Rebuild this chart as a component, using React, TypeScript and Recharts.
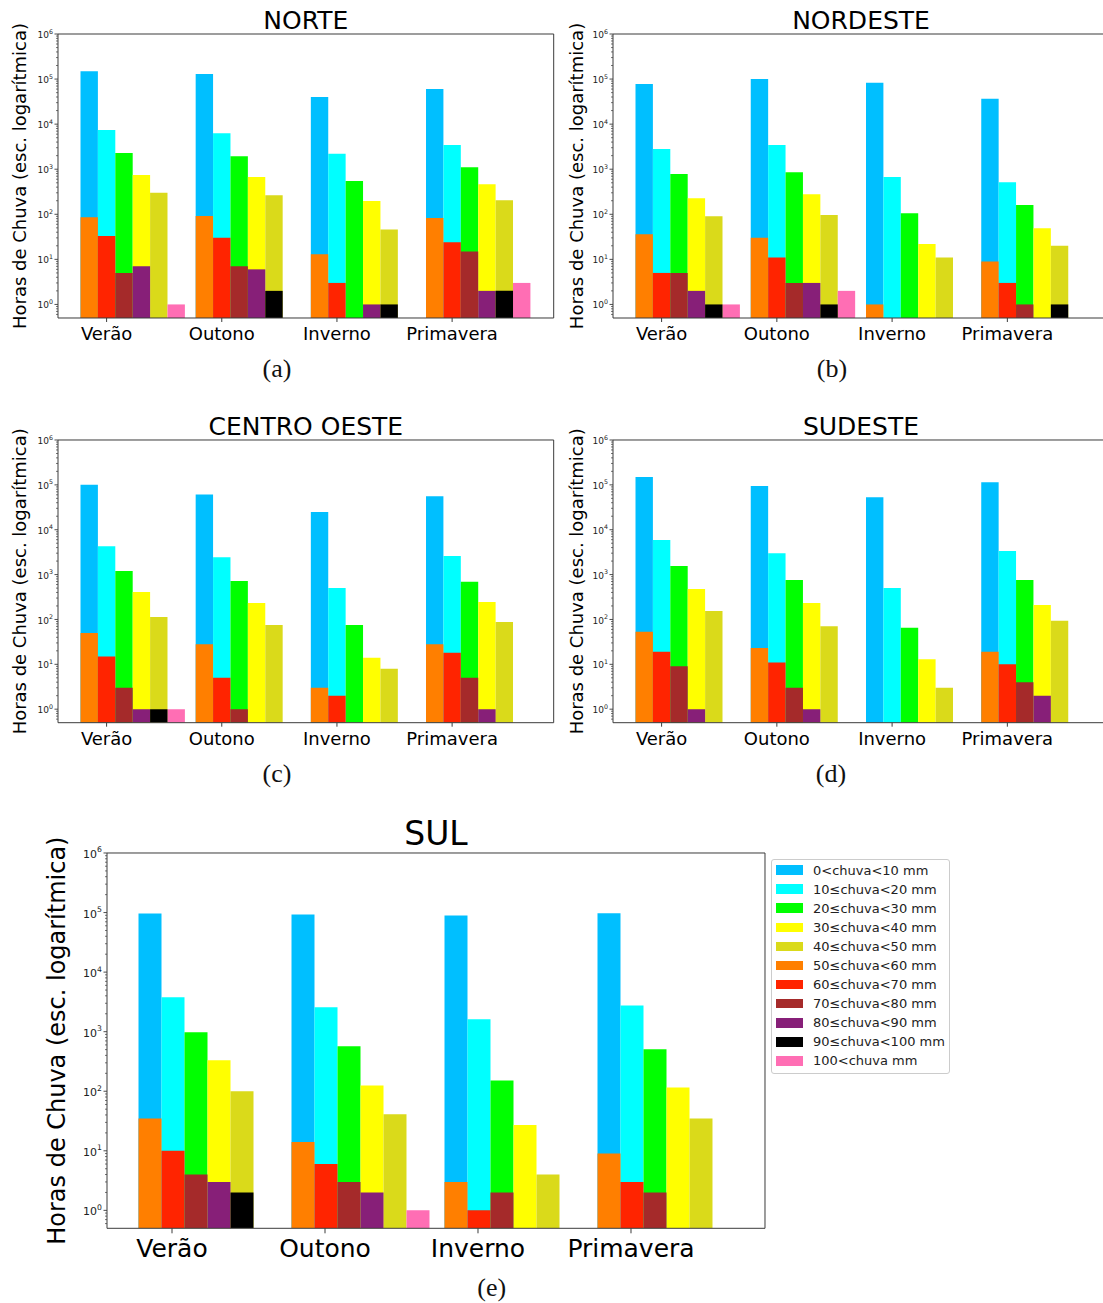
import { Bar, BarChart, XAxis, YAxis } from "recharts"

const seasons = ["Verão", "Outono", "Inverno", "Primavera"]

const classes = [
  "0<chuva<10 mm",
  "10≤chuva<20 mm",
  "20≤chuva<30 mm",
  "30≤chuva<40 mm",
  "40≤chuva<50 mm",
  "50≤chuva<60 mm",
  "60≤chuva<70 mm",
  "70≤chuva<80 mm",
  "80≤chuva<90 mm",
  "90≤chuva<100 mm",
  "100<chuva mm",
]

const colors = [
  "#00bfff", "#00ffff", "#00ff00", "#ffff00", "#dada1a",
  "#ff7f00", "#ff2400", "#a52a2a", "#871f78", "#000000", "#ff6eb4",
]

// one row per rain class, one value per season (null = no bar)
const norte = [
  [150000, 130000, 40000, 60000],
  [7400, 6300, 2200, 3450],
  [2300, 1950, 545, 1100],
  [740, 670, 196, 465],
  [300, 265, 46, 205],
  [86, 92, 13, 83],
  [33, 30, 3, 24],
  [5, 7, null, 15],
  [7, 6, 1, 2],
  [null, 2, 1, 2],
  [1, null, null, 3],
]

const nordeste = [
  [78000, 100000, 83000, 36500],
  [2800, 3450, 670, 515],
  [780, 860, 106, 160],
  [228, 280, 22, 49],
  [91, 96, 11, 20],
  [36, 30, 1, 9],
  [5, 11, null, 3],
  [5, 3, null, 1],
  [2, 3, null, null],
  [1, 1, null, 1],
  [1, 2, null, null],
]

const centroOeste = [
  [100000, 61000, 24700, 56000],
  [4300, 2450, 500, 2600],
  [1200, 720, 75, 690],
  [410, 233, 14, 245],
  [114, 75, 8, 88],
  [50, 28, 3, 28],
  [15, 5, 2, 18],
  [3, 1, null, 5],
  [1, null, null, 1],
  [1, null, null, null],
  [1, null, null, null],
]

const sudeste = [
  [150000, 94000, 53000, 115000],
  [5900, 3000, 500, 3350],
  [1550, 760, 65, 760],
  [475, 233, 13, 210],
  [155, 71, 3, 93],
  [53, 23, null, 19],
  [19, 11, null, 10],
  [9, 3, null, 4],
  [1, 1, null, 2],
  [null, null, null, null],
  [null, null, null, null],
]

const sul = [
  [96000, 93000, 89000, 97000],
  [3800, 2570, 1620, 2750],
  [980, 570, 152, 505],
  [330, 125, 27, 116],
  [100, 41, 4, 35],
  [35, 14, 3, 9],
  [10, 6, 1, 3],
  [4, 3, 2, 2],
  [3, 2, null, null],
  [2, null, null, null],
  [null, 1, null, null],
]

const yMajor = [1, 10, 100, 1000, 10000, 100000, 1000000]
const yMinor = [0.6, 0.7, 0.8, 0.9].concat(
  yMajor.slice(0, 6).flatMap((d) => [2, 3, 4, 5, 6, 7, 8, 9].map((m) => m * d))
)
const yTicks = [...yMajor, ...yMinor]

const frontKeys = [0, 1, 2, 3, 4, 10]
const backKeys = [5, 6, 7, 8, 9]

const FONT = "DejaVu Sans"
const SPINE = "#3a3a3a"

function LogTick(props: any) {
  const { x, y, payload, fs } = props
  const e = Math.log10(payload.value)
  const major = Math.abs(e - Math.round(e)) < 1e-6
  return (
    <g>
      <line x1={x} x2={x - (major ? 3.5 : 2)} y1={y} y2={y} stroke={SPINE} strokeWidth={major ? 0.9 : 0.7} />
      {major && (
        <text x={x - 5} y={y + fs * 0.45} textAnchor="end" fontSize={fs} fontFamily={FONT} fill="#222">
          10
          <tspan dy={-fs * 0.5} fontSize={fs * 0.7}>
            {Math.round(e)}
          </tspan>
        </text>
      )}
    </g>
  )
}

function SeasonTick(props: any) {
  const { x, y, payload, shift, fs, base, len } = props
  const cx = x + shift
  return (
    <g>
      <line x1={cx} x2={cx} y1={y} y2={y + len} stroke={SPINE} />
      <text x={cx} y={y + base} textAnchor="middle" fontSize={fs} fontFamily={FONT} fill="#000">
        {payload.value}
      </text>
    </g>
  )
}

type PanelProps = {
  title: string
  caption: string
  rows: (number | null)[][]
  left: number
  top: number
  width: number
  height: number
  pad: [number, number]
  barSize: number
  labelDx: number
  captionDx: number
  big?: boolean
}

function Panel(p: PanelProps) {
  const YW = p.big ? 110 : 70
  const MT = p.big ? 50 : 40
  const XH = p.big ? 80 : 70
  const MR = 10
  const s = p.big
    ? { title: 33, tick: 25, ylab: 24, ytick: 11, base: 29, len: 5, titleGap: 8, capGap: 67.5 }
    : { title: 25, tick: 18, ylab: 18, ytick: 9, base: 22, len: 4, titleGap: 5, capGap: 59 }

  const data = seasons.map((season, i) => {
    const row: any = { season }
    p.rows.forEach((r, k) => {
      row[`c${k}`] = r[i]
    })
    return row
  })

  const bandSize = (p.width - p.pad[0] - p.pad[1]) / 4
  const groupOffset = Math.floor((bandSize - 6 * p.barSize) / 2)
  const shift = groupOffset + 1.5 * p.barSize - bandSize / 2

  return (
    <div style={{ position: "absolute", left: p.left - YW, top: p.top - MT }}>
      <BarChart
        width={YW + p.width + MR}
        height={MT + p.height + XH}
        data={data}
        margin={{ top: MT - 1, right: MR - 1, left: 0, bottom: 0 }}
        barGap={0}
        style={{ overflow: "visible" }}
      >
        <XAxis
          dataKey="season"
          padding={{ left: p.pad[0], right: p.pad[1] }}
          height={XH}
          interval={0}
          tickSize={0}
          tickMargin={0}
          tickLine={false}
          axisLine={{ stroke: SPINE }}
          tick={<SeasonTick shift={shift} fs={s.tick} base={s.base} len={s.len} />}
          label={() => (
            <text
              x={YW + p.captionDx}
              y={MT + p.height + s.capGap}
              textAnchor="middle"
              fontSize={26}
              fontFamily="Liberation Serif"
              fill="#111"
            >
              {p.caption}
            </text>
          )}
        />
        <XAxis xAxisId="over" dataKey="season" padding={{ left: p.pad[0], right: p.pad[1] }} hide />
        <XAxis
          xAxisId="top"
          orientation="top"
          dataKey="season"
          height={1}
          tick={false}
          tickLine={false}
          axisLine={{ stroke: SPINE }}
          label={() => (
            <text
              x={YW + p.width / 2}
              y={MT - s.titleGap}
              textAnchor="middle"
              fontSize={s.title}
              fontFamily={FONT}
              fill="#000"
            >
              {p.title}
            </text>
          )}
        />
        <YAxis
          type="number"
          scale="log"
          domain={[0.5, 1000000]}
          allowDataOverflow
          ticks={yTicks}
          interval={0}
          width={YW}
          tickSize={0}
          tickMargin={0}
          tickLine={false}
          axisLine={{ stroke: SPINE }}
          tick={<LogTick fs={s.ytick} />}
          label={() => (
            <text
              x={YW + p.labelDx}
              y={MT + p.height / 2}
              transform={`rotate(-90, ${YW + p.labelDx}, ${MT + p.height / 2})`}
              textAnchor="middle"
              fontSize={s.ylab}
              fontFamily={FONT}
              fill="#000"
            >
              Horas de Chuva (esc. logarítmica)
            </text>
          )}
        />
        <YAxis
          yAxisId="right"
          orientation="right"
          type="number"
          domain={[0, 1]}
          width={1}
          tick={false}
          tickLine={false}
          axisLine={{ stroke: SPINE }}
        />
        {frontKeys.map((k) => (
          <Bar key={`f${k}`} dataKey={`c${k}`} fill={colors[k]} barSize={p.barSize} isAnimationActive={false} />
        ))}
        {backKeys.map((k) => (
          <Bar
            key={`b${k}`}
            xAxisId="over"
            dataKey={`c${k}`}
            fill={colors[k]}
            barSize={p.barSize}
            isAnimationActive={false}
          />
        ))}
        <Bar xAxisId="over" dataKey="none" fill="none" barSize={p.barSize} isAnimationActive={false} />
      </BarChart>
    </div>
  )
}

function Legend() {
  return (
    <div
      style={{
        position: "absolute",
        left: 771,
        top: 859,
        width: 177,
        height: 212,
        border: "1px solid #cccccc",
        borderRadius: 3,
        background: "rgba(255,255,255,0.8)",
        paddingTop: 0.5,
        boxSizing: "content-box",
      }}
    >
      {classes.map((c, i) => (
        <div key={c} style={{ height: 19.1, display: "flex", alignItems: "center" }}>
          <div style={{ width: 27, height: 9.5, marginLeft: 4, background: colors[i] }} />
          <span style={{ marginLeft: 10, fontSize: 13, fontFamily: FONT, color: "#222", whiteSpace: "nowrap" }}>
            {c}
          </span>
        </div>
      ))}
    </div>
  )
}

export default function App() {
  return (
    <div
      style={{
        position: "absolute",
        left: 0,
        top: 0,
        width: 1103,
        height: 1303,
        overflow: "hidden",
        background: "#ffffff",
      }}
    >
      <Panel title="NORTE" caption="(a)" rows={norte} left={58.3} top={34.3} width={495.7} height={284}
        pad={[17.5, 17.5]} barSize={17.4} labelDx={-32} captionDx={219} />
      <Panel title="NORDESTE" caption="(b)" rows={nordeste} left={613} top={34.3} width={496} height={284}
        pad={[17.5, 17.5]} barSize={17.4} labelDx={-30} captionDx={219} />
      <Panel title="CENTRO OESTE" caption="(c)" rows={centroOeste} left={58.3} top={440} width={495.7} height={282.7}
        pad={[17.5, 17.5]} barSize={17.4} labelDx={-32} captionDx={219} />
      <Panel title="SUDESTE" caption="(d)" rows={sudeste} left={613} top={440} width={496} height={282.7}
        pad={[17.5, 17.5]} barSize={17.4} labelDx={-30} captionDx={218} />
      <Panel title="SUL" caption="(e)" rows={sul} left={107.3} top={852.7} width={658} height={375.3}
        pad={[23.5, 22.5]} barSize={23} labelDx={-42} captionDx={384.7} big />
      <Legend />
    </div>
  )
}
